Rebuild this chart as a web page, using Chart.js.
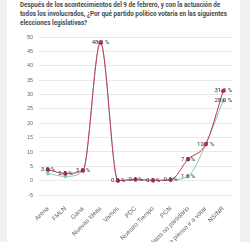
<!DOCTYPE html>
<html>
<head>
<meta charset="utf-8">
<script src="https://cdn.jsdelivr.net/npm/chart.js@4"></script>
<style>
  body { margin: 0; background: #f1f1f1; width: 250px; height: 242px; overflow: hidden; font-family: Roboto, "Liberation Sans", sans-serif; }
  .card { position: absolute; left: 7px; top: 0; width: 233px; height: 242px; background: #fff; overflow: hidden; }
  .title { position: absolute; left: 13px; top: 1px; white-space: nowrap; font-size: 6.3px; line-height: 9px; font-weight: bold; color: #4a4a4a; }
  .wrap { position: absolute; left: 0; top: 28px; width: 233px; height: 214px; }
</style>
</head>
<body>
<div class="card">
  <div class="title">Después de los acontecimientos del 9 de febrero, y con la actuación de<br>todos los involucrados, ¿Por qué partido político votaría en las siguientes<br>elecciones legislativas?</div>
  <div class="wrap"><canvas id="chart"></canvas></div>
</div>
<script>
// categories and values
const partidos = ['Arena', 'FMLN', 'Gana', 'Nuevas Ideas', 'Vamos', 'PDC', 'Nuestro Tiempo', 'PCN', 'Candidatos no partidario', 'No pienso ir a votar', 'NS/NR'];
const serieRoja = [3.8, 2.5, 3.6, 48.2, 0.0, 0.4, 0.1, 0.3, 7.5, 12.7, 31.3];
const serieVerde = [2.5, 1.5, 3.3, 48.2, 0.0, 0.4, 0.1, 0.3, 1.6, 12.7, 28.0];
const yTicks = [-5, 0, 5, 10, 15, 20, 25, 30, 35, 40, 45, 50];

const rojo = '#c3364f';
const verde = '#8cc5ac';

// draws "x.x %" centered on each point
const etiquetas = {
    id: 'etiquetas',
    afterDatasetsDraw(chart) {
        const ctx = chart.ctx;
        ctx.save();
        ctx.font = '6px Roboto, sans-serif';
        ctx.fillStyle = '#333';
        ctx.textAlign = 'center';
        ctx.textBaseline = 'middle';
        chart.data.datasets.forEach((ds, i) => {
            const meta = chart.getDatasetMeta(i);
            meta.data.forEach((pt, j) => {
                // skip green labels that would sit on top of the red ones
                if (i === 1 && Math.abs(serieVerde[j] - serieRoja[j]) < 2) return;
                ctx.fillText(ds.data[j].toFixed(1) + ' %', pt.x, pt.y);
            });
        });
        ctx.restore();
    }
};

new Chart(document.getElementById('chart'), {
    type: 'line',
    data: {
        labels: partidos,
        datasets: [{
            data: serieRoja,
            borderColor: rojo,
            backgroundColor: rojo,
            borderWidth: 1,
            pointRadius: 1.8,
            cubicInterpolationMode: 'monotone'
        }, {
            data: serieVerde,
            borderColor: verde,
            backgroundColor: verde,
            borderWidth: 1,
            pointRadius: 1.5,
            cubicInterpolationMode: 'monotone'
        }]
    },
    options: {
        responsive: true,
        maintainAspectRatio: false,
        animation: false,
        layout: { padding: { left: 14, right: 8, top: 6, bottom: 0 } },
        plugins: {
            legend: { display: false },
            tooltip: { enabled: false }
        },
        scales: {
            x: {
                offset: true,
                grid: { display: false },
                border: { display: false },
                afterFit: s => { s.height = 47; },
                ticks: {
                    font: { size: 6.3 },
                    color: '#666',
                    minRotation: 45,
                    maxRotation: 45,
                    autoSkip: false,
                    padding: 2
                }
            },
            y: {
                min: -5,
                max: 50,
                afterBuildTicks: axis => { axis.ticks = yTicks.map(v => ({ value: v })); },
                grid: { color: '#e9e9e9', lineWidth: 1, drawTicks: false },
                border: { display: false },
                ticks: {
                    font: { size: 5.5 },
                    color: '#666',
                    padding: 6
                }
            }
        }
    },
    plugins: [etiquetas]
});
</script>
</body>
</html>
